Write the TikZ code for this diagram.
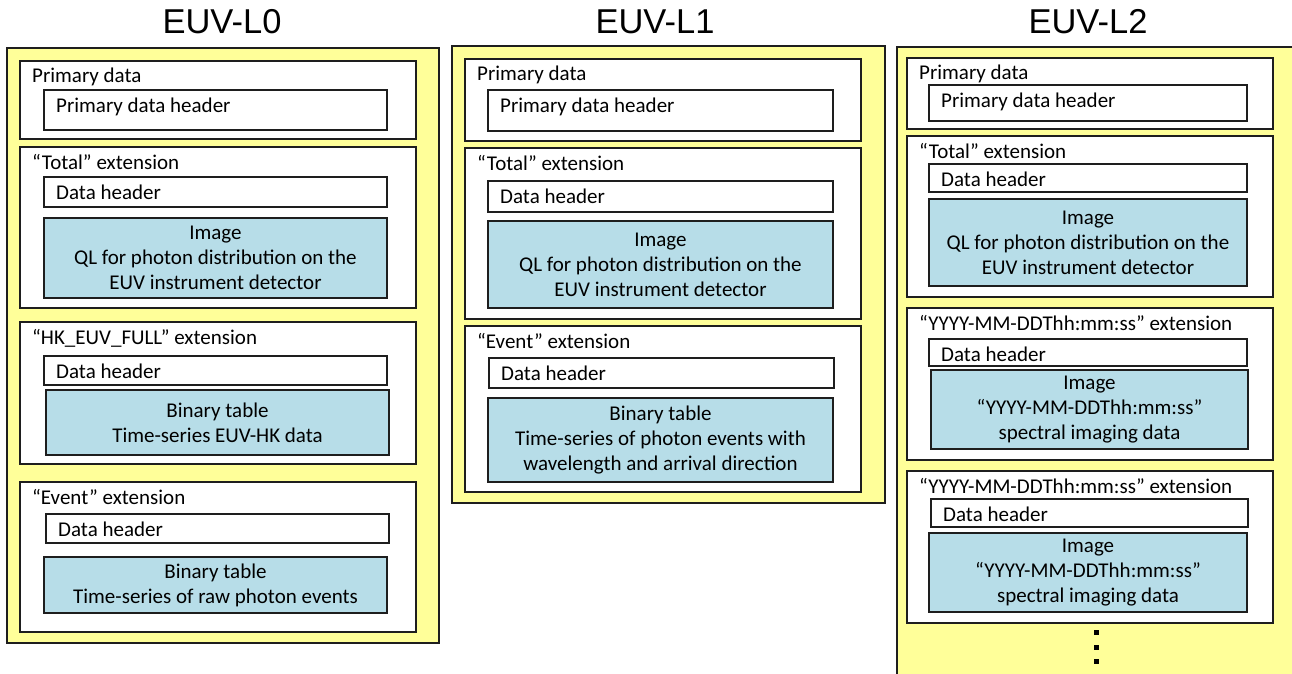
\documentclass[tikz,border=0pt]{standalone}
\usepackage{fontspec}
\setmainfont{Carlito}
\newfontfamily\titlefont{Liberation Sans}
\definecolor{panelyellow}{HTML}{FFFF99}
\definecolor{tableblue}{HTML}{B7DDE8}
\definecolor{edgegray}{HTML}{1E1E1E}

% box node spanning the corners (x1,y1)-(x2,y2): name, style, x1, y1, x2, y2, text
\newcommand\spanbox[7]{%
  \node[#2, minimum width={(#5-#3)*1pt}, minimum height={(#6-#4)*1pt}]
    (#1) at ({(#3+#5)/2},{(#4+#6)/2}) {#7};}

\tikzset{
  framed/.style={rectangle, draw=edgegray, line width=1.6pt, inner sep=0pt, outer sep=0pt},
  panel/.style={framed, fill=panelyellow},
  section/.style={framed, fill=white},
  headerbox/.style={framed, fill=white},
  tablebox/.style={framed, fill=tableblue, align=center,
    font=\fontsize{21}{25}\selectfont},
  caption/.style={anchor=base west, inner sep=0pt, font=\fontsize{21}{25}\selectfont},
  paneltitle/.style={anchor=base, inner sep=0pt, font=\titlefont\fontsize{34.5}{34.5}\selectfont},
  dot/.style={rectangle, fill=black, inner sep=0pt, minimum size=5pt}
}

% caption at the top left of a section or a header box
\newcommand\seccaption[2]{\node[caption] at ([xshift=12pt,yshift=-22pt]#1.north west) {#2};}
\newcommand\hdrtext[2]{\node[caption] at ([xshift=12pt,yshift=-22.5pt]#1.north west) {#2};}

\begin{document}
\begin{tikzpicture}[x=1pt,y=-1pt]
\path[use as bounding box] (0,0) rectangle (1292,674);
\clip (0,0) rectangle (1292,674);

% ---------------- EUV-L0 ----------------
\node[paneltitle] (t0) at (222,34) {EUV-L0};
\spanbox{l0}{panel}{7}{48}{439}{643}{}
\spanbox{l0p}{section}{20}{61}{416}{139}{}
\seccaption{l0p}{Primary data}
\spanbox{l0ph}{headerbox}{44}{90}{387}{130}{}
\hdrtext{l0ph}{Primary data header}

\spanbox{l0t}{section}{20}{147}{416}{308}{}
\seccaption{l0t}{“Total” extension}
\spanbox{l0th}{headerbox}{44}{177}{387}{207}{}
\hdrtext{l0th}{Data header}
\spanbox{l0ti}{tablebox}{44}{218}{387}{298}{Image\\QL for photon distribution on the\\EUV instrument detector}

\spanbox{l0k}{section}{20}{322}{416}{464}{}
\seccaption{l0k}{“HK\_EUV\_FULL” extension}
\spanbox{l0kh}{headerbox}{44}{356}{387}{385}{}
\hdrtext{l0kh}{Data header}
\spanbox{l0kt}{tablebox}{46}{390}{389}{455}{Binary table\\Time-series EUV-HK data}

\spanbox{l0e}{section}{20}{482}{416}{632}{}
\seccaption{l0e}{“Event” extension}
\spanbox{l0eh}{headerbox}{46}{514}{389}{543}{}
\hdrtext{l0eh}{Data header}
\spanbox{l0et}{tablebox}{44}{557}{387}{613}{Binary table\\Time-series of raw photon events}

% ---------------- EUV-L1 ----------------
\node[paneltitle] (t1) at (655,34) {EUV-L1};
\spanbox{l1}{panel}{452}{46}{885}{503}{}
\spanbox{l1p}{section}{465}{59}{861}{141}{}
\seccaption{l1p}{Primary data}
\spanbox{l1ph}{headerbox}{488}{90}{833}{131}{}
\hdrtext{l1ph}{Primary data header}

\spanbox{l1t}{section}{465}{148}{861}{319}{}
\seccaption{l1t}{“Total” extension}
\spanbox{l1th}{headerbox}{488}{181}{833}{212}{}
\hdrtext{l1th}{Data header}
\spanbox{l1ti}{tablebox}{488}{221}{833}{308}{Image\\QL for photon distribution on the\\EUV instrument detector}

\spanbox{l1e}{section}{465}{326}{861}{492}{}
\seccaption{l1e}{“Event” extension}
\spanbox{l1eh}{headerbox}{489}{358}{834}{388}{}
\hdrtext{l1eh}{Data header}
\spanbox{l1et}{tablebox}{488}{398}{833}{482}{Binary table\\Time-series of photon events with\\wavelength and arrival direction}

% ---------------- EUV-L2 ----------------
\node[paneltitle] (t2) at (1088,34) {EUV-L2};
\spanbox{l2}{panel}{897}{47}{1298}{700}{}
\spanbox{l2p}{section}{907}{58}{1273}{129}{}
\seccaption{l2p}{Primary data}
\spanbox{l2ph}{headerbox}{929}{85}{1247}{121}{}
\hdrtext{l2ph}{Primary data header}

\spanbox{l2t}{section}{907}{136}{1273}{297}{}
\seccaption{l2t}{“Total” extension}
\spanbox{l2th}{headerbox}{929}{164}{1247}{192}{}
\hdrtext{l2th}{Data header}
\spanbox{l2ti}{tablebox}{929}{199}{1247}{286}{Image\\QL for photon distribution on the\\EUV instrument detector}

\spanbox{l2a}{section}{907}{308}{1273}{460}{}
\seccaption{l2a}{“YYYY-MM-DDThh:mm:ss” extension}
\spanbox{l2ah}{headerbox}{929}{339}{1247}{366}{}
\hdrtext{l2ah}{Data header}
\spanbox{l2ai}{tablebox}{931}{370}{1248}{449}{Image\\“YYYY-MM-DDThh:mm:ss”\\spectral imaging data}

\spanbox{l2b}{section}{907}{471}{1273}{623}{}
\seccaption{l2b}{“YYYY-MM-DDThh:mm:ss” extension}
\spanbox{l2bh}{headerbox}{931}{499}{1248}{527}{}
\hdrtext{l2bh}{Data header}
\spanbox{l2bi}{tablebox}{929}{533}{1247}{612}{Image\\“YYYY-MM-DDThh:mm:ss”\\spectral imaging data}

% continuation marks
\node[dot] (d1) at (1096,632) {};
\node[dot] (d2) at (1096,647) {};
\node[dot] (d3) at (1096,661) {};
\end{tikzpicture}
\end{document}
